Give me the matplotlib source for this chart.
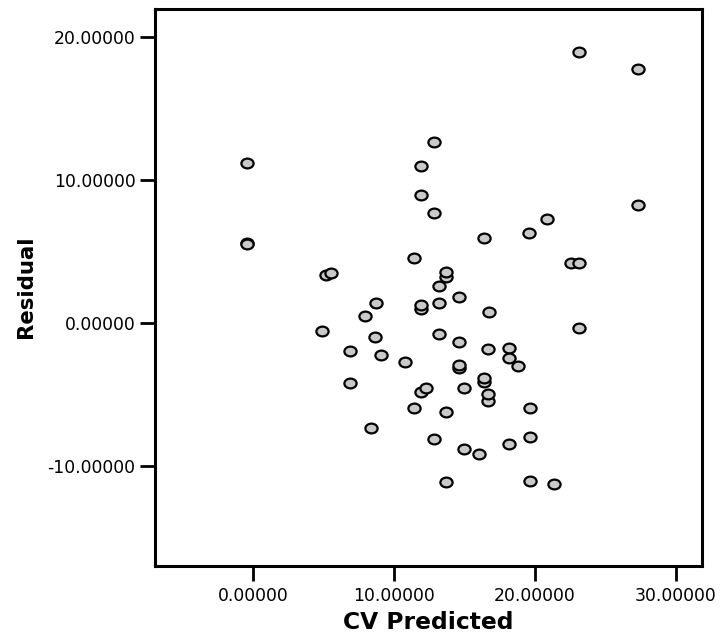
import matplotlib
matplotlib.use("Agg")
import matplotlib.pyplot as plt
from matplotlib.path import Path
from matplotlib.transforms import Affine2D

# Cross-validated predictions and their residuals
cv_predicted = [
    -0.45, -0.45, -0.45, 5.15, 5.53, 23.12, 27.33, 12.86, 11.89, 11.89,
    12.86, 27.33, 20.87, 19.60, 16.38, 11.42, 22.60, 23.12, 13.69, 13.69,
    13.17, 14.61, 13.17, 11.89, 11.89, 8.70, 7.90, 16.71, 4.87, 6.88,
    6.88, 23.12, 8.63, 13.17, 14.61, 16.69, 18.16, 18.16, 18.79, 9.05,
    10.78, 14.61, 14.61, 16.38, 16.38, 11.89, 12.27, 14.96, 16.69, 16.69,
    11.42, 13.69, 19.62, 8.39, 12.86, 14.96, 16.05, 18.16, 19.62, 13.69,
    19.62, 21.37,
]
residual = [
    11.20, 5.60, 5.50, 3.33, 3.47, 18.95, 17.76, 12.68, 11.00, 8.97,
    7.67, 8.23, 7.27, 6.29, 5.97, 4.52, 4.20, 4.20, 3.20, 3.57,
    2.61, 1.80, 1.40, 0.98, 1.24, 1.37, 0.51, 0.75, -0.56, -1.93,
    -4.22, -0.37, -0.96, -0.77, -1.35, -1.84, -1.77, -2.47, -3.03, -2.21,
    -2.70, -3.12, -2.94, -4.10, -3.82, -4.80, -4.57, -4.55, -5.43, -4.99,
    -5.94, -6.22, -5.94, -7.34, -8.14, -8.84, -9.14, -8.44, -7.95, -11.10,
    -11.05, -11.26,
]
x_ticks = [0, 10, 20, 30]
y_ticks = [-10, 0, 10, 20]

plt.rcParams["font.family"] = ["DejaVu Sans"]

fig = plt.figure(figsize=(7.2, 6.38), dpi=100)
ax = fig.add_axes([155 / 720, 72.5 / 638, 546.7 / 720, 556.5 / 638])

# slightly flattened circle marker
ellipse = Path.unit_circle().transformed(Affine2D().scale(1.0, 0.8))

ax.plot(cv_predicted, residual, linestyle="none", marker=ellipse,
        markersize=8.8, markerfacecolor="#c9c9c9", markeredgecolor="black",
        markeredgewidth=1.6)

ax.set_xlim(-6.98, 31.85)
ax.set_ylim(-16.95, 21.94)
ax.set_xticks(x_ticks)
ax.set_yticks(y_ticks)
ax.set_xticklabels([f"{v:.5f}" for v in x_ticks])
ax.set_yticklabels([f"{v:.5f}" for v in y_ticks])

for side in ["left", "right", "top", "bottom"]:
    ax.spines[side].set_linewidth(2.2)
    ax.spines[side].set_color("black")

ax.tick_params(axis="both", direction="out", length=10.5, width=2.0,
               labelsize=12.4, colors="black")
ax.tick_params(axis="x", pad=5)
ax.tick_params(axis="y", pad=3.5)

ax.set_xlabel("CV Predicted", fontsize=16.8, fontweight="bold", labelpad=4.5)
ax.set_ylabel("Residual", fontsize=15.3, fontweight="bold", labelpad=8)

fig.savefig("out.png", dpi=100)
